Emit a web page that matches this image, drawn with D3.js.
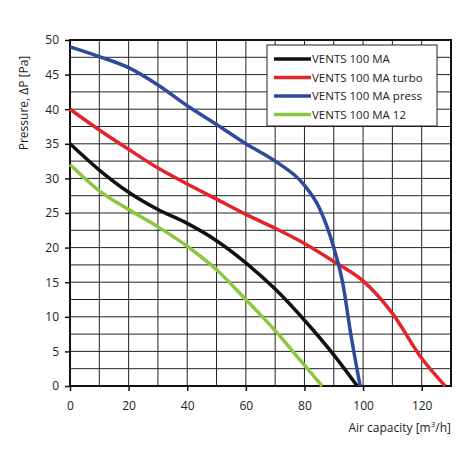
<!DOCTYPE html>
<html><head><meta charset="utf-8">
<script src="https://cdn.jsdelivr.net/npm/d3@7"></script>
<style>body{margin:0;background:#fff}text{font-family:"Open Sans",sans-serif}</style>
</head><body><div id="chart"></div>
<script>
// data
var seriesNames = ["VENTS 100 MA", "VENTS 100 MA turbo", "VENTS 100 MA press", "VENTS 100 MA 12"];
var seriesColors = ["#111111", "#e3242b", "#2e4a9b", "#8dc63f"];
var maX = [0, 10, 20, 30, 40, 50, 60, 70, 80, 90, 98];
var maY = [35, 31.2, 28, 25.5, 23.5, 21, 17.8, 14, 9.5, 4.5, 0];
var turboX = [0, 10, 20, 30, 40, 50, 60, 70, 80, 90, 100, 110, 120, 128];
var turboY = [40, 37, 34.2, 31.5, 29.2, 27, 24.8, 22.8, 20.6, 18, 15.2, 10.5, 4, 0];
var pressX = [0, 10, 20, 30, 40, 50, 60, 70, 80, 85, 90, 93, 96, 99];
var pressY = [49, 47.6, 46, 43.5, 40.5, 37.8, 35, 32.5, 29, 25.8, 20, 15, 7, 0];
var m12X = [0, 10, 20, 30, 40, 50, 60, 70, 80, 86];
var m12Y = [32, 28.2, 25.5, 23, 20.2, 16.8, 12.5, 8, 3, 0];
var xTicks = [0, 20, 40, 60, 80, 100, 120];
var yTicks = [0, 5, 10, 15, 20, 25, 30, 35, 40, 45, 50];

var series = [[maX, maY], [turboX, turboY], [pressX, pressY], [m12X, m12Y]];

var margin = {top: 40, right: 19, bottom: 84, left: 70},
    width = 470 - margin.left - margin.right,
    height = 470 - margin.top - margin.bottom;

var svg = d3.select("#chart").append("svg")
  .attr("width", 470).attr("height", 470)
 .append("g")
  .attr("transform", "translate(" + margin.left + "," + margin.top + ")");

var xScale = d3.scaleLinear().domain([0, 130]).range([0, width]);
var yScale = d3.scaleLinear().domain([0, 50]).range([height, 0]);

// grid
svg.selectAll(".vg").data(d3.range(10, 130, 10)).enter().append("line")
  .attr("x1", xScale).attr("x2", xScale).attr("y1", 0).attr("y2", height)
  .attr("stroke", "#222").attr("stroke-width", 1);
svg.selectAll(".hg").data(d3.range(2.5, 50, 2.5)).enter().append("line")
  .attr("y1", yScale).attr("y2", yScale).attr("x1", 0).attr("x2", width)
  .attr("stroke", "#222").attr("stroke-width", 1);
svg.append("rect").attr("width", width).attr("height", height)
  .attr("fill", "none").attr("stroke", "#111").attr("stroke-width", 2);

// axes
var xAxis = svg.append("g").attr("transform", "translate(0," + height + ")")
  .call(d3.axisBottom(xScale).tickValues(xTicks).tickSize(5).tickPadding(10));
var yAxis = svg.append("g")
  .call(d3.axisLeft(yScale).tickValues(yTicks).tickSize(5).tickPadding(6));
[xAxis, yAxis].forEach(function(a) {
  a.select(".domain").remove();
  a.selectAll("line").attr("stroke", "#111").attr("stroke-width", 1.5);
  a.selectAll("text").attr("font-size", 12).attr("fill", "#222")
    .style("font-family", "Open Sans");
});

// axis labels
svg.append("text").attr("transform", "rotate(-90)")
  .attr("x", -height / 2 + 110).attr("y", -42)
  .attr("text-anchor", "middle").attr("font-size", 12).attr("fill", "#222")
  .text("Pressure, ΔP [Pa]");
var xl = svg.append("text").attr("x", width).attr("y", height + 46)
  .attr("text-anchor", "end").attr("font-size", 12).attr("fill", "#222");
xl.append("tspan").text("Air capacity [m");
xl.append("tspan").attr("dy", -5).attr("font-size", 8).text("3");
xl.append("tspan").attr("dy", 5).text("/h]");

// lines
var line = d3.line().curve(d3.curveMonotoneX)
  .x(function(d) { return xScale(d[0]); })
  .y(function(d) { return yScale(d[1]); });
series.forEach(function(s, i) {
  var pts = s[0].map(function(x, j) { return [x, s[1][j]]; });
  svg.append("path").datum(pts).attr("d", line)
    .attr("fill", "none").attr("stroke", seriesColors[i]).attr("stroke-width", 3.5);
});

// legend
var lg = svg.append("g").attr("transform", "translate(197,5)");
lg.append("rect").attr("width", 170).attr("height", 81)
  .attr("fill", "#fff").attr("stroke", "#222").attr("stroke-width", 1);
seriesNames.forEach(function(n, i) {
  var y = 14 + i * 18.5;
  lg.append("line").attr("x1", 7).attr("x2", 44).attr("y1", y).attr("y2", y)
    .attr("stroke", seriesColors[i]).attr("stroke-width", 3.5);
  lg.append("text").attr("x", 45).attr("y", y + 4).attr("font-size", 11.5)
    .attr("fill", "#222").text(n);
});
</script></body></html>
